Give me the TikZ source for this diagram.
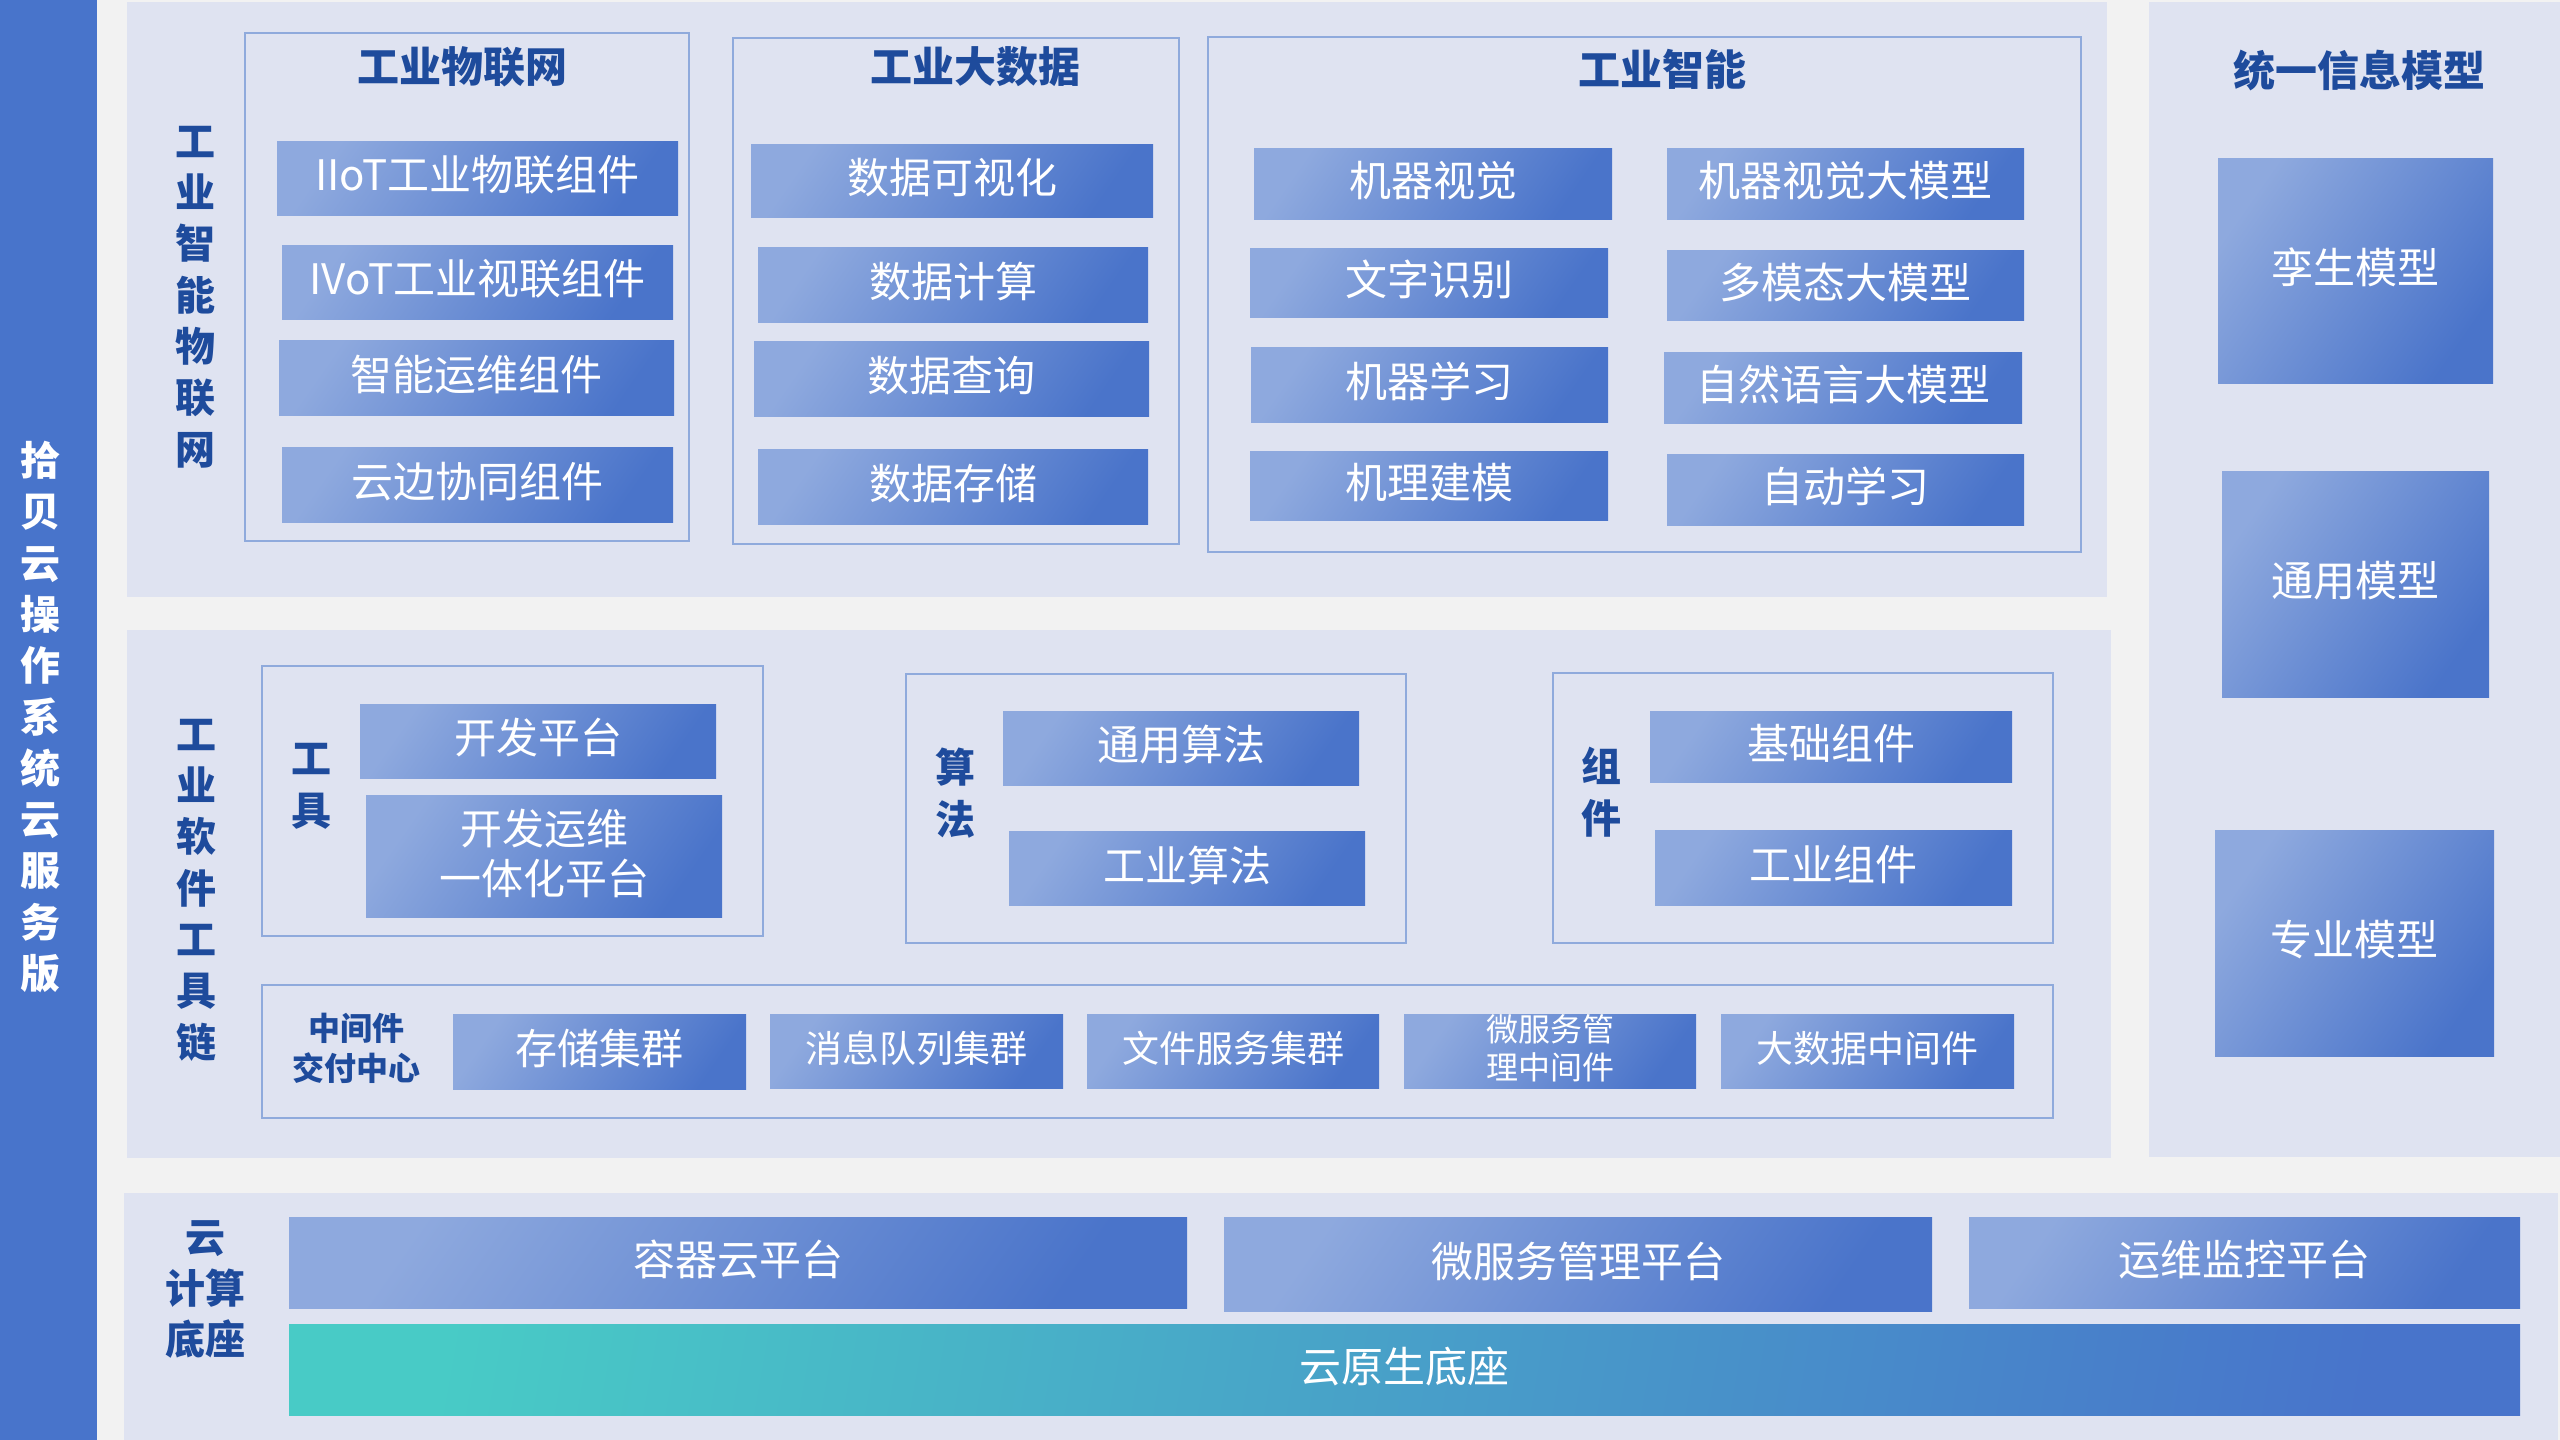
\documentclass[tikz,border=0pt]{standalone}
\usepackage{fontspec}
\newfontfamily\cjk{Noto Sans CJK SC}
\definecolor{bgc}{HTML}{F2F2F2}
\definecolor{panelc}{HTML}{DFE3F1}
\definecolor{barc}{HTML}{4874CB}
\definecolor{grpc}{HTML}{8FAADC}
\definecolor{lblc}{HTML}{1E4B9C}
\definecolor{boxl}{HTML}{8EA9DE}
\definecolor{boxd}{HTML}{4A74CA}
\definecolor{tealc}{HTML}{48CBC6}
% plain rectangle node (panels, groups)
\newcommand\rb[7][]{\node[#1,minimum width={#5-#3},minimum height={#6-#4}] (#2) at ({(#3+#5)/2},{(#4+#6)/2}) {#7};}
% shaded box with its text
\newcommand\bx[7][]{\node[boxs,minimum width={#5-#3},minimum height={#6-#4}] (#2) at ({(#3+#5)/2},{(#4+#6)/2}) {};
  \node[boxt,#1] (#2-t) at ([yshift=3pt]#2.center) {#7};}
\tikzset{
  panel/.style={rectangle,inner sep=0pt,fill=panelc,draw=none},
  grp/.style={rectangle,inner sep=0pt,draw=grpc,line width=1.5pt},
  boxs/.style={rectangle,inner sep=0pt,top color=boxl,bottom color=boxd,shading angle=55},
  boxt/.style={inner sep=0pt,text=white,align=center,font={\cjk\fontsize{42}{50}\selectfont}},
  sm/.style={font={\cjk\fontsize{37}{44}\selectfont}},
  xs/.style={font={\cjk\fontsize{32}{38}\selectfont}},
  lbl/.style={text=lblc,align=center,inner sep=0pt,font={\cjk\bfseries\fontsize{40}{51.3}\selectfont}},
  ttl/.style={text=lblc,align=center,inner sep=0pt,font={\cjk\bfseries\fontsize{42}{50}\selectfont}}
}
\begin{document}
\begin{tikzpicture}[x=1pt,y=-1pt]
\useasboundingbox (0,0) rectangle (2560,1440);
\fill[bgc] (0,0) rectangle (2560,1440);
% left bar
\rb[rectangle,inner sep=0pt,fill=barc]{bar}{0}{0}{97}{1440}{}
\node[lbl,text=white] (bart) at (40,717) {拾\\贝\\云\\操\\作\\系\\统\\云\\服\\务\\版};
% panels
\rb[panel]{ptop}{127}{2}{2107}{597}{}
\rb[panel]{pright}{2149}{2}{2560}{1157}{}
\rb[panel]{pmid}{127}{630}{2111}{1158}{}
\rb[panel]{pbot}{124}{1193}{2558}{1440}{}
% ===== top panel
\node[lbl] (ltop) at (195,297) {工\\业\\智\\能\\物\\联\\网};
\rb[grp]{g1}{245}{33}{689}{541}{}
\rb[grp]{g2}{733}{38}{1179}{544}{}
\rb[grp]{g3}{1208}{37}{2081}{552}{}
\node[ttl] (t1) at (462,67) {工业物联网};
\node[ttl] (t2) at (975,67) {工业大数据};
\node[ttl] (t3) at (1662,69) {工业智能};
\bx{a1}{277}{141}{678}{215}{IIoT工业物联组件}
\bx{a2}{282}{245}{673}{319}{IVoT工业视联组件}
\bx{a3}{279}{340}{674}{415}{智能运维组件}
\bx{a4}{282}{447}{673}{522}{云边协同组件}
\bx{b1}{751}{144}{1153}{217}{数据可视化}
\bx{b2}{758}{247}{1148}{322}{数据计算}
\bx{b3}{754}{341}{1149}{416}{数据查询}
\bx{b4}{758}{449}{1148}{524}{数据存储}
\bx{c1}{1254}{148}{1612}{219}{机器视觉}
\bx{c2}{1250}{248}{1608}{317}{文字识别}
\bx{c3}{1251}{347}{1608}{422}{机器学习}
\bx{c4}{1250}{451}{1608}{520}{机理建模}
\bx{d1}{1667}{148}{2024}{219}{机器视觉大模型}
\bx{d2}{1667}{250}{2024}{320}{多模态大模型}
\bx{d3}{1664}{352}{2022}{423}{自然语言大模型}
\bx{d4}{1667}{454}{2024}{525}{自动学习}
% ===== right panel
\node[ttl] (t4) at (2359,70) {统一信息模型};
\bx{m1}{2218}{158}{2493}{383}{孪生模型}
\bx{m2}{2222}{471}{2489}{697}{通用模型}
\bx{m3}{2215}{830}{2494}{1056}{专业模型}
% ===== middle panel
\node[lbl] (lmid) at (196,890) {工\\业\\软\\件\\工\\具\\链};
\rb[grp]{g4}{262}{666}{763}{936}{}
\node[lbl,font={\cjk\bfseries\fontsize{40}{52}\selectfont}] (l4) at (311,786) {工\\具};
\bx{e1}{360}{704}{716}{778}{开发平台}
\bx{e2}{366}{795}{722}{917}{开发运维\\一体化平台}
\rb[grp]{g5}{906}{674}{1406}{943}{}
\node[lbl,font={\cjk\bfseries\fontsize{40}{52}\selectfont}] (l5) at (955,793) {算\\法};
\bx{f1}{1003}{711}{1359}{785}{通用算法}
\bx{f2}{1009}{831}{1365}{905}{工业算法}
\rb[grp]{g6}{1553}{673}{2053}{943}{}
\node[lbl,font={\cjk\bfseries\fontsize{40}{52}\selectfont}] (l6) at (1601,792) {组\\件};
\bx{h1}{1650}{711}{2012}{782}{基础组件}
\bx{h2}{1655}{830}{2012}{905}{工业组件}
\rb[grp]{g7}{262}{985}{2053}{1118}{}
\node[lbl,font={\cjk\bfseries\fontsize{32}{40}\selectfont}] (l7) at (356,1048) {中间件\\交付中心};
\bx{k1}{453}{1014}{746}{1089}{存储集群}
\bx[sm]{k2}{770}{1014}{1063}{1088}{消息队列集群}
\bx[sm]{k3}{1087}{1014}{1379}{1088}{文件服务集群}
\bx[xs]{k4}{1404}{1014}{1696}{1088}{微服务管\\理中间件}
\bx[sm]{k5}{1721}{1014}{2014}{1088}{大数据中间件}
% ===== bottom panel
\node[lbl,font={\cjk\bfseries\fontsize{40}{51}\selectfont}] (lbot) at (205,1289) {云\\计算\\底座};
\bx{p1}{289}{1217}{1187}{1308}{容器云平台}
\bx{p2}{1224}{1217}{1932}{1311}{微服务管理平台}
\bx{p3}{1969}{1217}{2520}{1308}{运维监控平台}
\node[rectangle,inner sep=0pt,left color=tealc,right color=barc,shading angle=80,
  minimum width=2231,minimum height=91] (p4) at (1404.5,1369.5) {};
\node[boxt] (p4-t) at ([yshift=3pt]p4.center) {云原生底座};
\end{tikzpicture}
\end{document}
